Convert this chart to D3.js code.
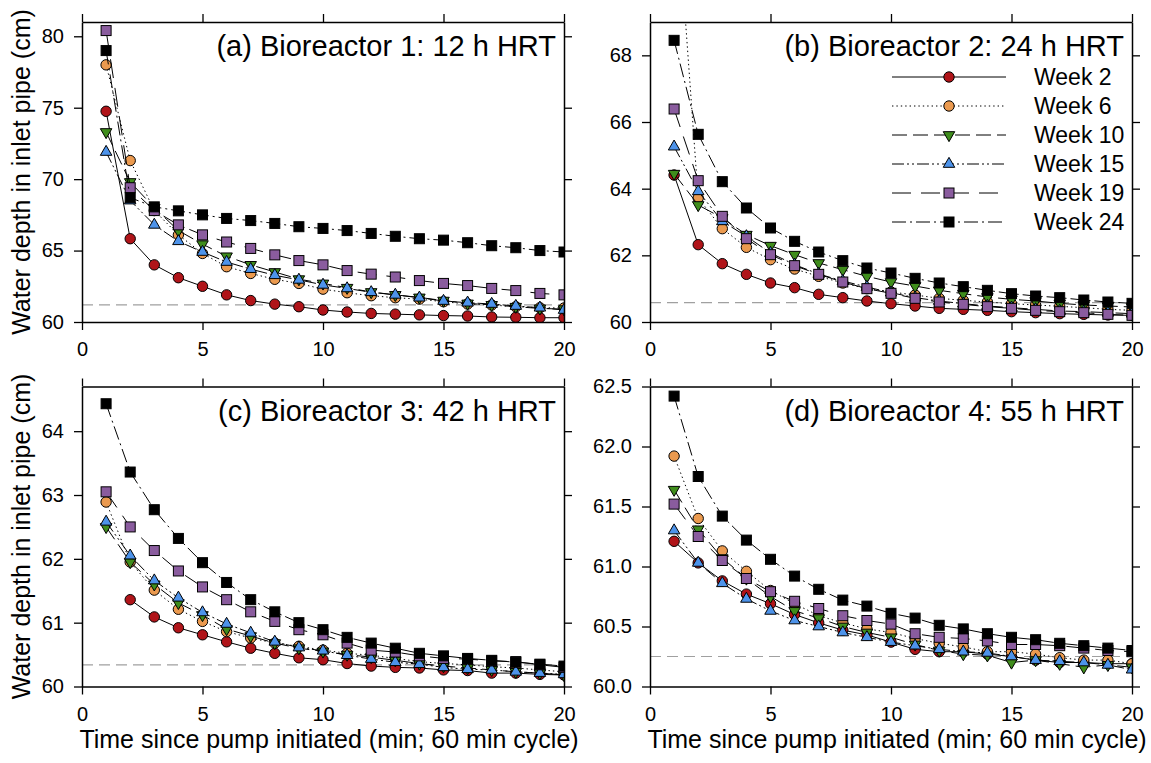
<!DOCTYPE html>
<html><head><meta charset="utf-8">
<script src="https://cdn.jsdelivr.net/npm/d3@7"></script>
<style>
body{margin:0;background:#fff}
svg{display:block}
text{font-family:"Liberation Sans",Arial,Helvetica,sans-serif;fill:#000}
</style>
</head><body>
<svg id="chart" width="1151" height="763"></svg>
<script>
// ---------------- data ----------------
const minutes = [1,2,3,4,5,6,7,8,9,10,11,12,13,14,15,16,17,18,19,20];
const weekNames = ["Week 2","Week 6","Week 10","Week 15","Week 19","Week 24"];
const xTicks = [0,5,10,15,20];

// (a) Bioreactor 1: 12 h HRT
const aWeek2  = [74.75,65.83,64.0,63.1,62.5,61.9,61.5,61.25,61.07,60.84,60.7,60.6,60.55,60.5,60.45,60.42,60.35,60.33,60.3,60.3];
const aWeek6  = [78.0,71.3,67.8,66.1,64.8,63.87,63.4,62.99,62.7,62.3,62.05,61.84,61.7,61.6,61.42,61.26,61.19,61.07,61.0,60.98];
const aWeek10 = [73.3,69.8,68.0,66.4,65.45,64.6,64.0,63.5,63.0,62.7,62.4,62.1,61.9,61.72,61.5,61.3,61.2,61.07,60.95,60.9];
const aWeek15 = [71.9,68.5,66.8,65.65,64.9,64.2,63.7,63.27,62.95,62.6,62.35,62.08,61.9,61.7,61.47,61.35,61.26,61.12,61.0,60.84];
const aWeek19 = [80.4,69.4,67.8,66.8,66.1,65.6,65.15,64.7,64.3,64.0,63.6,63.35,63.15,62.9,62.7,62.55,62.35,62.2,62.0,61.9];
const aWeek24 = [79.0,68.7,68.06,67.78,67.5,67.25,67.1,66.9,66.67,66.55,66.4,66.2,66.0,65.83,65.73,65.55,65.34,65.2,65.0,64.9];
const aTicksY = [60,65,70,75,80];

// (b) Bioreactor 2: 24 h HRT
const bWeek2  = [64.41,62.32,61.75,61.43,61.17,61.03,60.83,60.73,60.63,60.55,60.48,60.41,60.38,60.35,60.31,60.28,60.25,60.23,60.21,60.2];
const bWeek6  = [73.8,63.72,62.8,62.24,61.87,61.59,61.37,61.17,61.0,60.9,60.81,60.71,60.65,60.6,60.55,60.51,60.47,60.43,60.38,60.35];
const bWeek10 = [64.45,63.51,63.12,62.62,62.29,62.02,61.77,61.57,61.37,61.2,61.08,60.95,60.85,60.75,60.68,60.63,60.56,60.51,60.48,60.45];
const bWeek15 = [65.26,63.92,63.02,62.57,62.07,61.72,61.44,61.23,61.05,60.88,60.73,60.63,60.55,60.48,60.43,60.38,60.33,60.31,60.28,60.25];
const bWeek19 = [66.39,64.24,63.17,62.5,62.02,61.69,61.43,61.2,61.0,60.86,60.71,60.6,60.53,60.46,60.41,60.35,60.31,60.28,60.23,60.2];
const bWeek24 = [68.45,65.63,64.21,63.42,62.82,62.42,62.1,61.84,61.62,61.47,61.31,61.17,61.06,60.95,60.85,60.78,60.73,60.66,60.6,60.56];
const bTicksY = [60,62,64,66,68];

// (c) Bioreactor 3: 42 h HRT
const cWeek2  = [null,61.36,61.09,60.92,60.81,60.7,60.6,60.52,60.45,60.42,60.36,60.32,60.3,60.29,60.26,60.25,60.21,60.21,60.19,60.18];
const cWeek6  = [62.89,61.95,61.51,61.21,61.02,60.86,60.76,60.68,60.63,60.57,60.52,60.49,60.44,60.39,60.36,60.34,60.31,60.29,60.26,60.23];
const cWeek10 = [62.5,61.95,61.6,61.31,61.12,60.9,60.79,60.68,60.6,60.55,60.5,60.46,60.41,60.36,60.32,60.29,60.26,60.23,60.21,60.18];
const cWeek15 = [62.58,62.05,61.66,61.39,61.16,60.98,60.84,60.7,60.61,60.56,60.49,60.43,60.38,60.35,60.3,60.27,60.26,60.23,60.21,60.19];
const cWeek19 = [63.05,62.5,62.13,61.81,61.56,61.36,61.17,61.02,60.89,60.81,60.68,60.57,60.54,60.48,60.44,60.43,60.4,60.39,60.34,60.3];
const cWeek24 = [64.43,63.36,62.77,62.32,61.94,61.63,61.36,61.17,61.0,60.89,60.77,60.68,60.6,60.52,60.48,60.44,60.41,60.38,60.35,60.32];
const cTicksY = [60,61,62,63,64];

// (d) Bioreactor 4: 55 h HRT
const dWeek2  = [61.21,61.03,60.88,60.77,60.69,60.6,60.53,60.47,60.43,60.37,60.31,60.29,60.29,60.27,60.25,60.22,60.2,60.2,60.19,60.19];
const dWeek6  = [61.92,61.4,61.13,60.96,60.8,60.69,60.59,60.53,60.48,60.45,60.4,60.36,60.33,60.29,60.29,60.27,60.24,60.22,60.22,60.19];
const dWeek10 = [61.64,61.31,61.07,60.9,60.75,60.63,60.57,60.5,60.45,60.41,60.35,60.3,60.27,60.26,60.2,60.22,60.19,60.16,60.18,60.16];
const dWeek15 = [61.3,61.03,60.86,60.73,60.63,60.55,60.5,60.45,60.41,60.37,60.34,60.31,60.29,60.28,60.25,60.22,60.21,60.2,60.18,60.14];
const dWeek19 = [61.52,61.25,61.05,60.9,60.79,60.71,60.65,60.59,60.55,60.52,60.44,60.41,60.4,60.38,60.35,60.35,60.34,60.32,60.3,60.29];
const dWeek24 = [62.42,61.75,61.42,61.22,61.06,60.92,60.81,60.72,60.67,60.61,60.57,60.51,60.48,60.44,60.41,60.39,60.36,60.34,60.32,60.3];
const dTicksY = [60.0,60.5,61.0,61.5,62.0,62.5];

// reference (dashed) levels
const refLevels = [61.2, 60.58, 60.34, 60.25];
const panelTitles = ["(a) Bioreactor 1: 12 h HRT","(b) Bioreactor 2: 24 h HRT","(c) Bioreactor 3: 42 h HRT","(d) Bioreactor 4: 55 h HRT"];
const yMax = [81, 69, 64.7, 62.5];

// ---------------- styles ----------------
const styles = [
  {fill:"#b01419", shape:"circle",  dash:null},
  {fill:"#eb9a4f", shape:"circle",  dash:"1.4,3"},
  {fill:"#3f8d1c", shape:"tridown", dash:"15,6"},
  {fill:"#4d93ea", shape:"triup",   dash:"12,3,2,3,2,3"},
  {fill:"#8a5c9e", shape:"square",  dash:"19,10"},
  {fill:"#000000", shape:"square",  dash:"14,4,2,4"}
];

const panels = [
  {left:82,  top:22,  series:[aWeek2,aWeek6,aWeek10,aWeek15,aWeek19,aWeek24], yTicks:aTicksY, fmt:d3.format("d"),   yTitle:true,  xTitle:false},
  {left:650, top:22,  series:[bWeek2,bWeek6,bWeek10,bWeek15,bWeek19,bWeek24], yTicks:bTicksY, fmt:d3.format("d"),   yTitle:false, xTitle:false, legend:true},
  {left:82,  top:386.5, series:[cWeek2,cWeek6,cWeek10,cWeek15,cWeek19,cWeek24], yTicks:cTicksY, fmt:d3.format("d"), yTitle:true,  xTitle:true},
  {left:650, top:386.5, series:[dWeek2,dWeek6,dWeek10,dWeek15,dWeek19,dWeek24], yTicks:dTicksY, fmt:d3.format(".1f"), yTitle:false, xTitle:true}
];
const W = 482, H = 300;

const svg = d3.select("#chart");

function marker(g, shape, fill, cx, cy){
  let el;
  if(shape==="circle"){
    el = g.append("circle").attr("cx",cx).attr("cy",cy).attr("r",5.2);
  } else if(shape==="square"){
    el = g.append("rect").attr("x",cx-5).attr("y",cy-5).attr("width",10).attr("height",10);
  } else {
    const s = 11.5, h = s*Math.sqrt(3)/2;
    const sign = shape==="triup" ? 1 : -1;
    const pts = [[cx, cy - sign*h*2/3],[cx - s/2, cy + sign*h/3],[cx + s/2, cy + sign*h/3]];
    el = g.append("path").attr("d","M"+pts.map(p=>p.join(",")).join("L")+"Z");
  }
  el.attr("fill",fill).attr("stroke","#000").attr("stroke-width",1);
}

panels.forEach((p,i)=>{
  const g = svg.append("g").attr("transform",`translate(${p.left},${p.top})`);
  const x = d3.scaleLinear().domain([0,20]).range([0,W]);
  const y = d3.scaleLinear().domain([60,yMax[i]]).range([H,0]);

  const clipId = "clip"+i;
  g.append("clipPath").attr("id",clipId).append("rect").attr("x",0).attr("y",0).attr("width",W).attr("height",H);

  // reference line
  g.append("line").attr("x1",0).attr("x2",W).attr("y1",y(refLevels[i])).attr("y2",y(refLevels[i]))
    .attr("stroke","#a0a0a0").attr("stroke-width",1.2).attr("stroke-dasharray","11,6");

  const plot = g.append("g").attr("clip-path",`url(#${clipId})`);
  p.series.forEach((vals,k)=>{
    const st = styles[k];
    const pts = minutes.map((m,j)=>[m, vals[j]]);
    const line = d3.line().defined(d=>d[1]!==null).x(d=>x(d[0])).y(d=>y(d[1]));
    plot.append("path").attr("d",line(pts)).attr("fill","none").attr("stroke","#000")
      .attr("stroke-width",1).attr("stroke-dasharray",st.dash);
    const mg = plot.append("g");
    pts.forEach(d=>{ if(d[1]!==null) marker(mg, st.shape, st.fill, x(d[0]), y(d[1])); });
  });

  // axes
  const axStyle = a => { a.select(".domain").attr("stroke","#000").attr("stroke-width",1.5);
    a.selectAll(".tick line").attr("stroke","#000").attr("stroke-width",1.3);
    a.selectAll(".tick text").style("font-size","20px").attr("fill","#000"); };
  g.append("g").attr("transform",`translate(0,${H})`)
    .call(d3.axisBottom(x).tickValues(xTicks).tickSize(8).tickSizeOuter(0).tickPadding(12).tickFormat(d3.format("d")))
    .call(axStyle).call(a=>a.attr("font-family",null));
  g.append("g")
    .call(d3.axisTop(x).tickValues(xTicks).tickSize(8).tickSizeOuter(0).tickFormat(""))
    .call(axStyle);
  g.append("g")
    .call(d3.axisLeft(y).tickValues(p.yTicks).tickSize(8).tickSizeOuter(0).tickPadding(10).tickFormat(p.fmt))
    .call(axStyle).call(a=>a.attr("font-family",null));
  g.append("g").attr("transform",`translate(${W},0)`)
    .call(d3.axisRight(y).tickValues(p.yTicks).tickSize(8).tickSizeOuter(0).tickFormat(""))
    .call(axStyle);
  svg.selectAll("g[font-family]").attr("font-family",null);

  // panel title
  g.append("text").attr("x",W-8).attr("y",34).attr("text-anchor","end")
    .style("font-size","29px").text(panelTitles[i]);

  if(p.yTitle){
    svg.append("text").attr("transform",`translate(30,${p.top+H/2}) rotate(-90)`)
      .attr("text-anchor","middle").style("font-size","25px").text("Water depth in inlet pipe (cm)");
  }
  if(p.xTitle){
    svg.append("text").attr("x",p.left+W/2+6).attr("y",p.top+H+61.5)
      .attr("text-anchor","middle").style("font-size","25px").text("Time since pump initiated (min; 60 min cycle)");
  }

  if(p.legend){
    const lg = svg.append("g");
    weekNames.forEach((nm,k)=>{
      const st = styles[k];
      const cy = 77 + k*29;
      lg.append("line").attr("x1",892).attr("x2",1006).attr("y1",cy).attr("y2",cy)
        .attr("stroke","#000").attr("stroke-width",1).attr("stroke-dasharray",st.dash);
      marker(lg, st.shape, st.fill, 949, cy);
      lg.append("text").attr("x",1034).attr("y",cy+8).style("font-size","23px").text(nm);
    });
  }
});
</script>
</body></html>
